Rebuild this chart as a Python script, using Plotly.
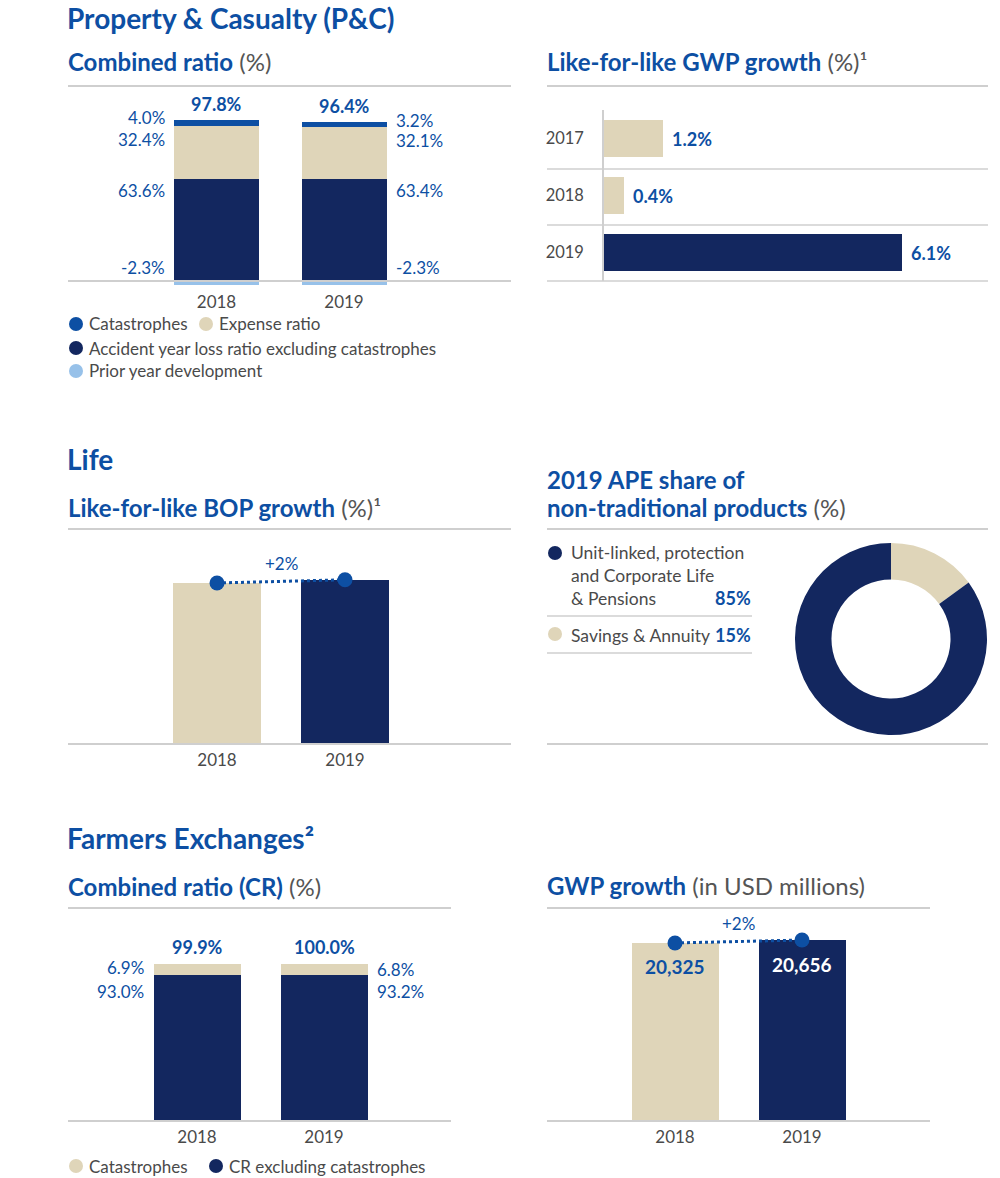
import plotly.graph_objects as go

W, H = 1000, 1178
def px(x): return x / W
def py(y): return 1 - y / H

NAVY = "#13275f"
BEIGE = "#dfd5b9"
BLUE = "#0d4fa3"
LIGHTBLUE = "#97c1e9"
LINE = "#cfcfcf"
TXT = "#4a4a4a"
FONT = "Lato"

# ---------------- data ----------------
pc_years = ["2018", "2019"]
pc_ayl = [63.6, 63.4]          # accident year loss ratio excl. catastrophes
pc_exp = [32.4, 32.1]          # expense ratio
pc_cat = [4.0, 3.2]            # catastrophes
pc_pyd = [-2.3, -2.3]          # prior year development
pc_total = [97.8, 96.4]

gwp_years = ["2017", "2018", "2019"]
gwp_growth = [1.2, 0.4, 6.1]

life_years = ["2018", "2019"]
life_bop_index = [100, 102]

ape_labels = ["Savings & Annuity", "Unit-linked, protection and Corporate Life & Pensions"]
ape_share = [15, 85]

fe_years = ["2018", "2019"]
fe_excl = [93.0, 93.2]
fe_cat = [6.9, 6.8]
fe_total = [99.9, 100.0]

fe_gwp_years = ["2018", "2019"]
fe_gwp = [20325, 20656]

fig = go.Figure()

# ---------------- P&C combined ratio ----------------
pc_bw = 0.667
for vals, col, name in [(pc_ayl, NAVY, "Accident year loss ratio excluding catastrophes"),
                        (pc_exp, BEIGE, "Expense ratio"),
                        (pc_cat, BLUE, "Catastrophes"),
                        (pc_pyd, LIGHTBLUE, "Prior year development")]:
    fig.add_trace(go.Bar(x=pc_years, y=vals, marker=dict(color=col, line=dict(width=0)),
                         width=pc_bw, name=name, showlegend=False, xaxis="x", yaxis="y"))

# ---------------- GWP growth (hbar) ----------------
fig.add_trace(go.Bar(y=gwp_years, x=gwp_growth, orientation="h", width=0.66,
                     marker=dict(color=[BEIGE, BEIGE, NAVY], line=dict(width=0)),
                     showlegend=False, xaxis="x2", yaxis="y2"))

# ---------------- Life BOP ----------------
fig.add_trace(go.Bar(x=life_years, y=life_bop_index, width=0.6875,
                     marker=dict(color=[BEIGE, NAVY], line=dict(width=0)),
                     showlegend=False, xaxis="x3", yaxis="y3"))
fig.add_trace(go.Scatter(x=life_years, y=life_bop_index, mode="lines+markers",
                         line=dict(color=BLUE, width=3, dash="dot"),
                         marker=dict(color=BLUE, size=15),
                         showlegend=False, xaxis="x3", yaxis="y3", cliponaxis=False))

# ---------------- APE donut ----------------
fig.add_trace(go.Pie(labels=ape_labels, values=ape_share, hole=0.62, sort=False,
                     direction="clockwise", rotation=0, textinfo="none",
                     marker=dict(colors=[BEIGE, NAVY], line=dict(width=0)),
                     domain=dict(x=[px(795), px(987)], y=[py(735), py(543)]),
                     showlegend=False))

# ---------------- Farmers CR ----------------
fe_bw = 0.69
fig.add_trace(go.Bar(x=fe_years, y=fe_excl, width=fe_bw, marker=dict(color=NAVY, line=dict(width=0)),
                     name="CR excluding catastrophes", showlegend=False, xaxis="x4", yaxis="y4"))
fig.add_trace(go.Bar(x=fe_years, y=fe_cat, width=fe_bw, marker=dict(color=BEIGE, line=dict(width=0)),
                     name="Catastrophes", showlegend=False, xaxis="x4", yaxis="y4"))

# ---------------- Farmers GWP ----------------
fig.add_trace(go.Bar(x=fe_gwp_years, y=fe_gwp, width=0.69,
                     marker=dict(color=[BEIGE, NAVY], line=dict(width=0)),
                     showlegend=False, xaxis="x5", yaxis="y5"))
fig.add_trace(go.Scatter(x=fe_gwp_years, y=fe_gwp, mode="lines+markers",
                         line=dict(color=BLUE, width=3, dash="dot"),
                         marker=dict(color=BLUE, size=15),
                         showlegend=False, xaxis="x5", yaxis="y5", cliponaxis=False))

# ---------------- axes ----------------
tickfont = dict(family=FONT, size=17, color=TXT)
def cat_x(domain, anchor):
    return dict(domain=domain, range=[-0.5, 1.5], type="category", showgrid=False,
                zeroline=False, showline=False, ticks="", tickfont=tickfont,
                anchor=anchor, fixedrange=True, ticklabelstandoff=4)

pc_scale = 1.61
fe_scale = 1.57
life_scale = 1.61
gwp_scale = 0.00876

layout_axes = dict(
    xaxis=cat_x([px(152.75), px(407.75)], "y"),
    yaxis=dict(domain=[py(286), py(90)], range=[-(286 - 281) / pc_scale, (281 - 90) / pc_scale],
               visible=False, anchor="x", fixedrange=True),
    xaxis2=dict(domain=[px(604), px(988)], range=[0, (988 - 604) / 48.85], visible=False,
                anchor="y2", fixedrange=True),
    yaxis2=dict(domain=[py(281), py(110)], range=[2.5, -0.5], type="category",
                showgrid=False, zeroline=False, showline=True, linecolor=LINE, linewidth=1.5,
                ticks="", tickfont=dict(family=FONT, size=16.5, color=TXT), anchor="x2",
                ticklabelstandoff=15, fixedrange=True),
    xaxis3=cat_x([px(153), px(409)], "y3"),
    yaxis3=dict(domain=[py(744), py(540)], range=[0, (744 - 540) / life_scale], visible=False,
                anchor="x3", fixedrange=True),
    xaxis4=cat_x([px(133.5), px(387.5)], "y4"),
    yaxis4=dict(domain=[py(1121), py(930)], range=[0, (1121 - 930) / fe_scale], visible=False,
                anchor="x4", fixedrange=True),
    xaxis5=cat_x([px(611.5), px(865.5)], "y5"),
    yaxis5=dict(domain=[py(1121), py(915)], range=[0, (1121 - 915) / gwp_scale], visible=False,
                anchor="x5", fixedrange=True),
)

ann = []
def A(**k):
    base = dict(showarrow=False, font=dict(family=FONT, size=17, color=BLUE))
    base.update(k)
    ann.append(base)

def gray(t):
    return f"<span style='color:#555555;font-weight:normal'>{t}</span>"

# ---------------- titles ----------------
def T(text, x, y, size=24):
    A(text=text, x=px(x), y=py(y), xref="paper", yref="paper", xanchor="left", yanchor="middle",
      font=dict(family=FONT, size=size, color=BLUE), borderpad=0)

T("<b>Property &amp; Casualty (P&amp;C)</b>", 66, 18, 28)
T("<b>Combined ratio</b> " + gray("(%)"), 67, 62)
T("<b>Like-for-like GWP growth</b> " + gray("(%)¹"), 546, 62)
T("<b>Life</b>", 66, 459, 28)
T("<b>Like-for-like BOP growth</b> " + gray("(%)¹"), 67, 507)
T("<b>2019 APE share of</b>", 546, 479)
T("<b>non-traditional products</b> " + gray("(%)"), 546, 507)
T("<b>Farmers Exchanges²</b>", 66, 838, 28)
T("<b>Combined ratio (CR)</b> " + gray("(%)"), 67, 886)
T("<b>GWP growth</b> " + gray("(in USD millions)"), 546, 885)

# ---------------- P&C labels ----------------
for i, yr in enumerate(pc_years):
    left = i == 0
    xa = "right" if left else "left"
    xpos = i - pc_bw / 2 if left else i + pc_bw / 2
    xs = -7 if left else 7
    top_ayl = pc_ayl[i]
    top_exp = pc_ayl[i] + pc_exp[i]
    top_cat = top_exp + pc_cat[i]
    for val, yv, ys in [(pc_cat[i], top_cat, 2), (pc_exp[i], top_exp, -13),
                        (pc_ayl[i], top_ayl, -12), (pc_pyd[i], 0, 13)]:
        A(text=f"{val:.1f}%", x=xpos, y=yv, xref="x", yref="y", xanchor=xa, yanchor="middle",
          xshift=xs, yshift=ys)
    A(text=f"<b>{pc_total[i]:.1f}%</b>", x=i, y=top_cat, xref="x", yref="y",
      yanchor="bottom", yshift=3, font=dict(family=FONT, size=18, color=BLUE))

# ---------------- GWP hbar labels ----------------
for i, v in enumerate(gwp_growth):
    A(text=f"<b>{v:.1f}%</b>", x=v, y=i, xref="x2", yref="y2", xanchor="left",
      yanchor="middle", xshift=7, font=dict(family=FONT, size=18, color=BLUE))

# ---------------- Life growth label ----------------
life_pct = round((life_bop_index[1] / life_bop_index[0] - 1) * 100)
A(text=f"+{life_pct}%", x=0.5, y=max(life_bop_index), xref="x3", yref="y3",
  yanchor="bottom", yshift=4, font=dict(family=FONT, size=17, color=BLUE))

# ---------------- Donut legend ----------------
for txt, y in [("Unit-linked, protection", 553), ("and Corporate Life", 575), ("&amp; Pensions", 598),
               ("Savings &amp; Annuity", 635)]:
    A(text=txt, x=px(569), y=py(y), xref="paper", yref="paper", xanchor="left", yanchor="middle",
      font=dict(family=FONT, size=17.5, color=TXT))
A(text=f"<b>{ape_share[1]}%</b>", x=px(753), y=py(598), xref="paper", yref="paper",
  xanchor="right", yanchor="middle", font=dict(family=FONT, size=18, color=BLUE))
A(text=f"<b>{ape_share[0]}%</b>", x=px(753), y=py(635), xref="paper", yref="paper",
  xanchor="right", yanchor="middle", font=dict(family=FONT, size=18, color=BLUE))

# ---------------- Farmers CR labels ----------------
for i, yr in enumerate(fe_years):
    left = i == 0
    xa = "right" if left else "left"
    xpos = i - fe_bw / 2 if left else i + fe_bw / 2
    xs = -7 if left else 7
    top_ex = fe_excl[i]
    top_cat = fe_excl[i] + fe_cat[i]
    A(text=f"{fe_cat[i]:.1f}%", x=xpos, y=top_cat, xref="x4", yref="y4", xanchor=xa,
      yanchor="middle", xshift=xs, yshift=-3 - i * 2)
    A(text=f"{fe_excl[i]:.1f}%", x=xpos, y=top_ex, xref="x4", yref="y4", xanchor=xa,
      yanchor="middle", xshift=xs, yshift=-17)
    A(text=f"<b>{fe_total[i]:.1f}%</b>", x=i, y=top_cat, xref="x4", yref="y4",
      yanchor="bottom", yshift=4, font=dict(family=FONT, size=18, color=BLUE))

# ---------------- Farmers GWP labels ----------------
gwp_pct = round((fe_gwp[1] / fe_gwp[0] - 1) * 100)
A(text=f"+{gwp_pct}%", x=0.5, y=max(fe_gwp), xref="x5", yref="y5",
  yanchor="bottom", yshift=4, font=dict(family=FONT, size=17, color=BLUE))
for i, v in enumerate(fe_gwp):
    A(text=f"<b>{v:,}</b>", x=i, y=v, xref="x5", yref="y5", yanchor="middle", yshift=-24,
      font=dict(family=FONT, size=19, color=BLUE if i == 0 else "white"))

# ---------------- legends (P&C, Farmers) ----------------
shapes = []
def dot(cx, cy, color):
    shapes.append(dict(type="circle", xref="paper", yref="paper", x0=px(cx - 7), x1=px(cx + 7),
                       y0=py(cy + 7), y1=py(cy - 7), fillcolor=color, line=dict(width=0)))

def legend_item(cx, cy, color, text):
    dot(cx, cy, color)
    A(text=text, x=px(cx + 11), y=py(cy), xref="paper", yref="paper", xanchor="left",
      yanchor="middle", font=dict(family=FONT, size=17, color=TXT))

legend_item(76, 324, BLUE, "Catastrophes")
legend_item(206, 324, BEIGE, "Expense ratio")
legend_item(76, 348, NAVY, "Accident year loss ratio excluding catastrophes")
legend_item(76, 371, LIGHTBLUE, "Prior year development")
dot(555, 553, NAVY)
dot(555, 634, BEIGE)
legend_item(76, 1166, BEIGE, "Catastrophes")
legend_item(216, 1166, NAVY, "CR excluding catastrophes")

# ---------------- rules ----------------
def hline(y, x0, x1, w=2):
    shapes.append(dict(type="line", xref="paper", yref="paper", x0=px(x0), x1=px(x1),
                       y0=py(y), y1=py(y), line=dict(color=LINE, width=w)))

hline(86, 68, 511); hline(86, 547, 988)
hline(281, 68, 511)
hline(169, 547, 988, 1.5); hline(225, 547, 988, 1.5); hline(281, 547, 988, 1.5)
hline(529, 68, 511); hline(529, 547, 988)
hline(744, 68, 511); hline(744, 547, 988)
hline(616, 547, 752, 1.5); hline(653, 547, 752, 1.5)
hline(908, 68, 451); hline(908, 547, 930)
hline(1121, 68, 451); hline(1121, 547, 930)

fig.update_layout(
    width=W, height=H, margin=dict(l=0, r=0, t=0, b=0),
    paper_bgcolor="white", plot_bgcolor="rgba(0,0,0,0)",
    barmode="relative", bargap=0, showlegend=False,
    font=dict(family=FONT, color=TXT),
    annotations=ann, shapes=shapes,
    **layout_axes,
)

# remove the default 8px page margin so the figure fills the window exactly
fig.write_html("out.html", config={"displayModeBar": False},
               post_script="document.body.style.margin='0px';")
